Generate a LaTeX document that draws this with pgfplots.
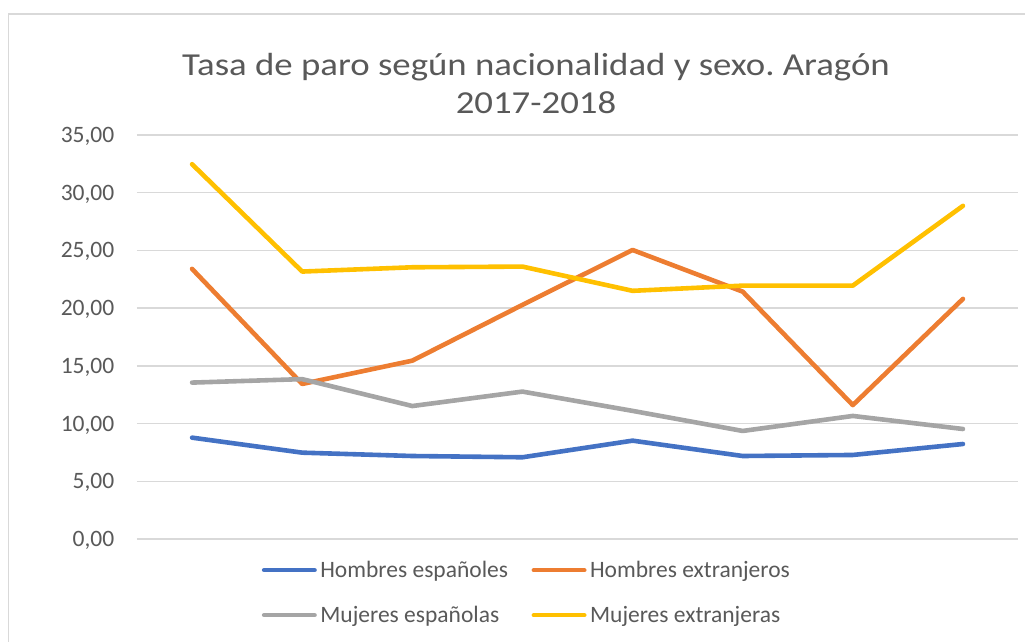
\documentclass[border=0pt]{standalone}
\usepackage{fontspec}
\setmainfont{Carlito}
\newfontfamily\titlefont[FakeStretch=1.15]{Carlito}
\usepackage{pgfplots}
\pgfplotsset{compat=1.18}
\definecolor{cblue}{HTML}{4472C4}
\definecolor{corange}{HTML}{ED7D31}
\definecolor{cgray}{HTML}{A5A5A5}
\definecolor{cyellow}{HTML}{FFC000}
\definecolor{cgrid}{HTML}{D9D9D9}
\definecolor{ctext}{HTML}{595959}
\frenchspacing
\begin{document}
\begin{tikzpicture}
\useasboundingbox (-137pt,-103pt) rectangle (888pt,539pt);
\draw[cgrid, line width=1.3pt] (1100pt,525pt) -- (-128.7pt,525pt) -- (-128.7pt,-300pt);
\node[anchor=base, text=ctext, font=\titlefont\fontsize{32}{38}\selectfont, inner sep=0pt] at (399pt,463pt) {Tasa de paro según nacionalidad y sexo. Aragón};
\node[anchor=base, text=ctext, font=\titlefont\fontsize{32}{38}\selectfont, inner sep=0pt] at (399pt,425pt) {2017-2018};
\begin{axis}[
  at={(0pt,0pt)}, anchor=south west,
  scale only axis, width=881pt, height=404pt,
  xmin=-0.5, xmax=7.5, ymin=0, ymax=35,
  xtick=\empty, ytick={0,5,...,35},
  ymajorgrids, major grid style={cgrid, line width=1.3pt},
  axis line style={draw=none},
  major tick length=0pt, tick style={draw=none},
  /pgf/number format/assume math mode=true,
  yticklabel={\pgfmathprintnumber[fixed,fixed zerofill,precision=2,use comma]{\tick}},
  yticklabel style={anchor=east, inner sep=0pt, xshift=-22.5pt, text height=15pt, text depth=0pt, text=ctext, font=\fontsize{23.5}{28}\selectfont},
  clip=false,
  legend columns=2,
  legend cell align=left,
  legend style={draw=none, fill=none, inner sep=0pt, at={(0.1415,-0.0584)}, anchor=north west,
    column sep=3.5pt, row sep=30.2pt,
    /tikz/every even column/.append style={column sep=23.5pt},
    nodes={inner sep=0pt, text height=14.8pt, text depth=0pt, text=ctext, font=\fontsize{23.5}{28}\selectfont}},
  legend image code/.code={\draw[#1, line width=4.6pt, line cap=round] (2.3pt,0pt) -- (52.7pt,0pt);},
  every axis plot/.append style={line width=4.6pt, line cap=round, line join=round},
]
\addplot[cblue] coordinates {(0,8.78) (1,7.48) (2,7.19) (3,7.08) (4,8.52) (5,7.19) (6,7.28) (7,8.23)};
\addlegendentry{Hombres españoles}
\addplot[corange] coordinates {(0,23.40) (1,13.43) (2,15.45) (3,20.28) (4,25.04) (5,21.43) (6,11.60) (7,20.80)};
\addlegendentry{Hombres extranjeros}
\addplot[cgray] coordinates {(0,13.55) (1,13.85) (2,11.52) (3,12.77) (4,11.10) (5,9.36) (6,10.66) (7,9.53)};
\addlegendentry{Mujeres españolas}
\addplot[cyellow] coordinates {(0,32.47) (1,23.17) (2,23.54) (3,23.60) (4,21.50) (5,21.95) (6,21.95) (7,28.86)};
\addlegendentry{Mujeres extranjeras}
\end{axis}
\end{tikzpicture}
\end{document}
